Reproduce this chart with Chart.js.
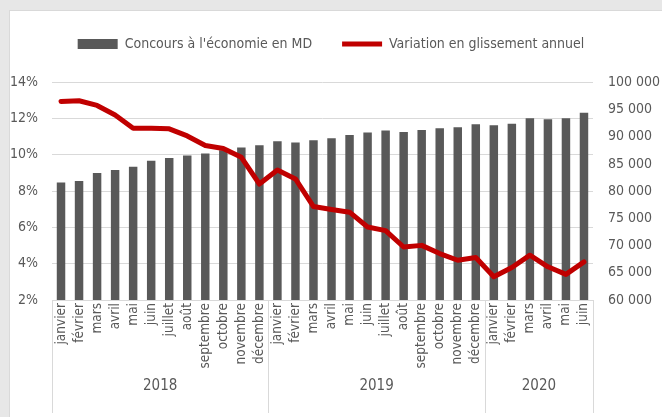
<!DOCTYPE html>
<html>
<head>
<meta charset="utf-8">
<script src="https://cdn.jsdelivr.net/npm/chart.js@4.4.1/dist/chart.umd.min.js"></script>
<style>
  html, body { margin: 0; padding: 0; background: #e7e7e7; overflow: hidden; }
  #panel { position: absolute; left: 9px; top: 10px; width: 700px; height: 450px; background: #fff; border: 1px solid #d9d9d9; }
  #chart { position: absolute; left: 0; top: 0; }
</style>
</head>
<body>
<div id="panel"></div>
<canvas id="chart" width="662" height="417"></canvas>
<script>
const monthNames = ['janvier', 'février', 'mars', 'avril', 'mai', 'juin', 'juillet', 'août', 'septembre', 'octobre', 'novembre', 'décembre'];
const months = [...monthNames, ...monthNames, ...monthNames.slice(0, 6)];
const years = ['2018', '2019', '2020'];
const yearSpans = [12, 12, 6];

// Concours à l'économie (MD), axe droit
const concours = [81600, 81860, 83320, 83870, 84470, 85570, 86060, 86550, 86900, 87520, 88000, 88430,
                  89160, 88920, 89350, 89710, 90320, 90750, 91110, 90870, 91230, 91540, 91720, 92270,
                  92090, 92390, 93360, 93180, 93360, 94390];
// Variation en glissement annuel (%), axe gauche
const variation = [12.94, 12.98, 12.72, 12.19, 11.46, 11.46, 11.43, 11.04, 10.51, 10.35, 9.86, 8.39,
                   9.16, 8.67, 7.15, 6.99, 6.84, 6.02, 5.82, 4.92, 5.01, 4.56, 4.19, 4.34,
                   3.28, 3.79, 4.47, 3.83, 3.41, 4.10];

const FONT = "'DejaVu Sans Condensed', 'DejaVu Sans', sans-serif";
const TXT = '#595959';
const GRID = '#d9d9d9';

const yearAxis = {
    id: 'yearAxis',
    afterDraw(chart) {
        const ctx = chart.ctx;
        const xs = chart.scales.x;
        const area = chart.chartArea;
        const half = (xs.getPixelForTick(1) - xs.getPixelForTick(0)) / 2;
        const bottom = 413;
        ctx.save();
        ctx.strokeStyle = GRID;
        ctx.lineWidth = 1;
        ctx.fillStyle = TXT;
        ctx.font = '15px ' + FONT;
        ctx.textAlign = 'center';
        ctx.textBaseline = 'middle';
        let start = 0;
        years.forEach((y, i) => {
            const end = start + yearSpans[i] - 1;
            const x0 = xs.getPixelForTick(start) - half;
            const x1 = xs.getPixelForTick(end) + half;
            [x0, x1].forEach(x => {
                ctx.beginPath();
                ctx.moveTo(Math.round(x) + 0.5, area.bottom);
                ctx.lineTo(Math.round(x) + 0.5, bottom);
                ctx.stroke();
            });
            ctx.fillText(y, (x0 + x1) / 2, 386);
            start = end + 1;
        });
        ctx.restore();
    }
};

new Chart(document.getElementById('chart'), {
    data: {
        labels: months,
        datasets: [{
            type: 'bar',
            label: "Concours à l'économie en MD",
            data: concours,
            yAxisID: 'y1',
            backgroundColor: '#595959',
            borderWidth: 0,
            categoryPercentage: 1,
            barPercentage: 0.47,
            order: 2
        }, {
            type: 'line',
            label: 'Variation en glissement annuel',
            data: variation,
            yAxisID: 'y',
            borderColor: '#c00000',
            backgroundColor: '#c00000',
            borderWidth: 5,
            pointRadius: 0,
            borderJoinStyle: 'round',
            borderCapStyle: 'round',
            tension: 0,
            order: 1
        }]
    },
    options: {
        responsive: false,
        animation: false,
        layout: { padding: { top: 7, left: 0, right: 0, bottom: 0 } },
        plugins: {
            tooltip: { enabled: false },
            // empty spacer between the legend and the plot
            subtitle: {
                display: true,
                text: '',
                weight: 500,
                font: { size: 1 },
                padding: { top: 0, bottom: 20 }
            },
            legend: {
                position: 'top',
                labels: {
                    usePointStyle: true,
                    pointStyleWidth: 40,
                    boxHeight: 10,
                    padding: 30,
                    color: TXT,
                    font: { family: FONT, size: 14 },
                    generateLabels: function(chart) {
                        const items = Chart.defaults.plugins.legend.labels.generateLabels(chart);
                        items.sort((a, b) => a.datasetIndex - b.datasetIndex);
                        items.forEach(it => {
                            if (it.datasetIndex === 0) {
                                it.pointStyle = 'rect';
                                it.lineWidth = 0;
                            } else {
                                it.pointStyle = 'line';
                                it.lineWidth = 5;
                                it.strokeStyle = '#c00000';
                            }
                        });
                        return items;
                    }
                }
            }
        },
        scales: {
            x: {
                grid: { display: false, drawTicks: false },
                border: { display: true, color: GRID },
                ticks: {
                    autoSkip: false,
                    minRotation: 90,
                    maxRotation: 90,
                    padding: 3,
                    color: TXT,
                    font: { family: FONT, size: 13.5 }
                },
                afterFit: s => { s.height = 117; }
            },
            y: {
                position: 'left',
                min: 2,
                max: 14,
                ticks: {
                    stepSize: 2,
                    padding: 14,
                    color: TXT,
                    font: { family: FONT, size: 14 },
                    callback: v => v + '%'
                },
                grid: { color: GRID, drawTicks: false },
                border: { display: false },
                afterFit: s => { s.width = 52; }
            },
            y1: {
                position: 'right',
                min: 60000,
                max: 100000,
                ticks: {
                    stepSize: 5000,
                    padding: 15,
                    color: TXT,
                    font: { family: FONT, size: 14 },
                    callback: v => String(v).replace(/\B(?=(\d{3})+(?!\d))/g, ' ')
                },
                grid: { display: false, drawTicks: false },
                border: { display: false },
                afterFit: s => { s.width = 69; }
            }
        }
    },
    plugins: [yearAxis]
});
</script>
</body>
</html>
